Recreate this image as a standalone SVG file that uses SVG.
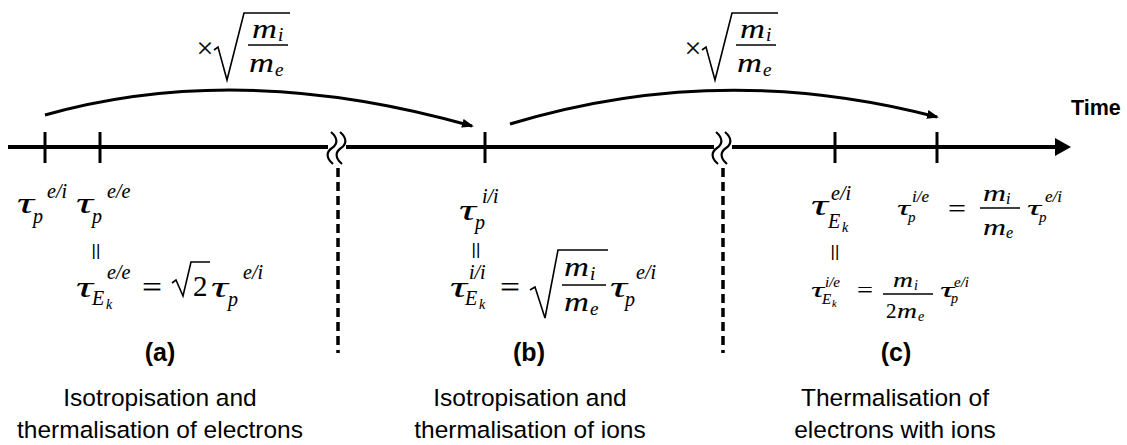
<svg xmlns="http://www.w3.org/2000/svg" width="1127" height="445" viewBox="0 0 1127 445">
<style>
.m{font-family:"Liberation Serif","DejaVu Serif",serif;font-style:italic;fill:#000;stroke:#000;stroke-width:0.1}
.u{font-family:"Liberation Serif","DejaVu Serif",serif;font-style:normal;fill:#000;stroke:#000;stroke-width:0.1}
.par{font-family:"Liberation Sans",Arial,sans-serif;fill:#000;text-anchor:middle}
.lbl{font-family:"Liberation Sans",Arial,sans-serif;font-size:24.5px;text-anchor:middle;fill:#000}
.bold{font-family:"Liberation Sans",Arial,sans-serif;font-weight:bold;fill:#000}
.ax{stroke:#000;stroke-width:4;fill:none}
.tick{stroke:#000;stroke-width:3}
.brk{stroke:#000;stroke-width:2.2;fill:none}
.dash{stroke:#000;stroke-width:3.5;stroke-dasharray:9 5}
.arc{stroke:#000;stroke-width:3;fill:none}
.rad{stroke:#000;stroke-width:1.6;fill:none}
.bar{stroke:#000;stroke-width:1.6}
</style>
<defs>
<marker id="ah" markerUnits="userSpaceOnUse" markerWidth="14" markerHeight="12" refX="10" refY="4.5" orient="auto"><path d="M0,0 L12,4.5 L0,9 z" fill="#000"/></marker>
<marker id="mainah" markerUnits="userSpaceOnUse" markerWidth="18" markerHeight="20" refX="1" refY="9" orient="auto"><path d="M0,0 L16,9 L0,18 z" fill="#000"/></marker>
</defs>

<g id="axis">
<line class="ax" x1="8" y1="147" x2="328" y2="147"/>
<line class="ax" x1="346" y1="147" x2="714" y2="147"/>
<line class="ax" x1="732" y1="147" x2="1056" y2="147" marker-end="url(#mainah)"/>
<path class="brk" d="M331,132 C338,138 338,144 332,148 C326,152 326,158 333,164"/>
<path class="brk" d="M340,132 C347,138 347,144 341,148 C335,152 335,158 342,164"/>
<path class="brk" d="M716,132 C723,138 723,144 717,148 C711,152 711,158 718,164"/>
<path class="brk" d="M725,132 C732,138 732,144 726,148 C720,152 720,158 727,164"/>
<line class="tick" x1="45" y1="132" x2="45" y2="163"/>
<line class="tick" x1="100" y1="132" x2="100" y2="163"/>
<line class="tick" x1="485" y1="132" x2="485" y2="163"/>
<line class="tick" x1="835" y1="132" x2="835" y2="163"/>
<line class="tick" x1="937" y1="132" x2="937" y2="163"/>
<line class="dash" x1="338" y1="168" x2="338" y2="353"/>
<line class="dash" x1="723" y1="168" x2="723" y2="353"/>
<text class="bold" x="1071" y="115" font-size="21.5">Time</text>
</g>

<g id="connectors">
<path class="arc" d="M45,115 Q240,60 472,126" marker-end="url(#ah)"/>
<path class="arc" d="M510,124 Q720,60 937,117" marker-end="url(#ah)"/>
</g>

<g id="factor1">
<text class="u" x="205" y="58" font-size="30" text-anchor="middle" style="stroke-width:0">×</text>
<path class="rad" d="M214,50 L218,47 L227,80 L244,13 H290"/>
<text class="m" x="252" y="38" font-size="28" textLength="25" lengthAdjust="spacingAndGlyphs">m</text><text class="m" x="278" y="41" font-size="19">i</text>
<line class="bar" x1="248" y1="45" x2="288" y2="45"/>
<text class="m" x="249" y="72" font-size="28" textLength="25" lengthAdjust="spacingAndGlyphs">m</text><text class="m" x="275" y="76" font-size="19">e</text>
</g>
<g id="factor2" transform="translate(488,0)">
<text class="u" x="205" y="58" font-size="30" text-anchor="middle" style="stroke-width:0">×</text>
<path class="rad" d="M214,50 L218,47 L227,80 L244,13 H290"/>
<text class="m" x="252" y="38" font-size="28" textLength="25" lengthAdjust="spacingAndGlyphs">m</text><text class="m" x="278" y="41" font-size="19">i</text>
<line class="bar" x1="248" y1="45" x2="288" y2="45"/>
<text class="m" x="249" y="72" font-size="28" textLength="25" lengthAdjust="spacingAndGlyphs">m</text><text class="m" x="275" y="76" font-size="19">e</text>
</g>

<g id="node-a">
<text class="m" x="17" y="213" font-size="29" textLength="17" lengthAdjust="spacingAndGlyphs">τ</text>
<text class="m" x="33" y="223" font-size="20">p</text>
<text class="m" x="47" y="198" font-size="20">e/i</text>
<text class="m" x="76" y="213" font-size="29" textLength="17" lengthAdjust="spacingAndGlyphs">τ</text>
<text class="m" x="92" y="223" font-size="20">p</text>
<text class="m" x="107" y="198" font-size="20">e/e</text>
<text class="par" x="96" y="256" font-size="17">||</text>
<text class="m" x="76" y="297" font-size="29" textLength="17" lengthAdjust="spacingAndGlyphs">τ</text>
<text class="m" x="92" y="305" font-size="20">E</text><text class="m" x="106" y="309" font-size="14">k</text>
<text class="m" x="107" y="279" font-size="20">e/e</text>
<text class="u" x="142" y="297" font-size="30" textLength="20" lengthAdjust="spacingAndGlyphs">=</text>
<path class="rad" d="M172,283 L176,280 L183,296 L191,262 H210"/>
<text class="u" x="193" y="296" font-size="29">2</text>
<text class="m" x="211" y="297" font-size="29" textLength="17" lengthAdjust="spacingAndGlyphs">τ</text>
<text class="m" x="228" y="306" font-size="20">p</text>
<text class="m" x="243" y="279" font-size="20">e/i</text>
<text class="bold" x="160" y="361" font-size="25" text-anchor="middle">(a)</text>
<text class="lbl" x="160" y="406">Isotropisation and</text>
<text class="lbl" x="160" y="438">thermalisation of electrons</text>
</g>

<g id="node-b">
<text class="m" x="459" y="220" font-size="29" textLength="17" lengthAdjust="spacingAndGlyphs">τ</text>
<text class="m" x="475" y="229" font-size="20">p</text>
<text class="m" x="482" y="203" font-size="20">i/i</text>
<text class="par" x="476" y="255" font-size="17">||</text>
<text class="m" x="450" y="297" font-size="29" textLength="17" lengthAdjust="spacingAndGlyphs">τ</text>
<text class="m" x="465" y="305" font-size="20">E</text><text class="m" x="479" y="309" font-size="14">k</text>
<text class="m" x="469" y="279" font-size="20">i/i</text>
<text class="u" x="500" y="297" font-size="30" textLength="20" lengthAdjust="spacingAndGlyphs">=</text>
<path class="rad" d="M530,290 L535,287 L545,318 L558,250 H608"/>
<text class="m" x="564" y="276" font-size="28" textLength="25" lengthAdjust="spacingAndGlyphs">m</text><text class="m" x="590" y="280" font-size="19">i</text>
<line class="bar" x1="562" y1="285" x2="606" y2="285"/>
<text class="m" x="564" y="311" font-size="28" textLength="25" lengthAdjust="spacingAndGlyphs">m</text><text class="m" x="590" y="315" font-size="19">e</text>
<text class="m" x="610" y="297" font-size="29" textLength="17" lengthAdjust="spacingAndGlyphs">τ</text>
<text class="m" x="625" y="306" font-size="20">p</text>
<text class="m" x="636" y="279" font-size="20">e/i</text>
<text class="bold" x="529" y="361" font-size="25" text-anchor="middle">(b)</text>
<text class="lbl" x="530" y="406">Isotropisation and</text>
<text class="lbl" x="530" y="438">thermalisation of ions</text>
</g>

<g id="node-c">
<text class="m" x="811" y="215" font-size="29" textLength="17" lengthAdjust="spacingAndGlyphs">τ</text>
<text class="m" x="828" y="228" font-size="20">E</text><text class="m" x="842" y="232" font-size="14">k</text>
<text class="m" x="831" y="200" font-size="20">e/i</text>
<text class="m" x="897" y="215" font-size="22" textLength="13" lengthAdjust="spacingAndGlyphs">τ</text>
<text class="m" x="908" y="222" font-size="15">p</text>
<text class="m" x="912" y="202" font-size="17">i/e</text>
<text class="u" x="948" y="216" font-size="24" textLength="18" lengthAdjust="spacingAndGlyphs">=</text>
<text class="m" x="983" y="201" font-size="24" textLength="23" lengthAdjust="spacingAndGlyphs">m</text><text class="m" x="1006" y="204" font-size="16">i</text>
<line class="bar" x1="980" y1="208" x2="1020" y2="208"/>
<text class="m" x="983" y="235" font-size="24" textLength="23" lengthAdjust="spacingAndGlyphs">m</text><text class="m" x="1006" y="238" font-size="16">e</text>
<text class="m" x="1027" y="215" font-size="22" textLength="14" lengthAdjust="spacingAndGlyphs">τ</text>
<text class="m" x="1039" y="222" font-size="15">p</text>
<text class="m" x="1045" y="202" font-size="17">e/i</text>
<text class="par" x="835" y="257" font-size="17">||</text>
<text class="m" x="811" y="297" font-size="21" textLength="13" lengthAdjust="spacingAndGlyphs">τ</text>
<text class="m" x="822" y="304" font-size="15">E</text><text class="m" x="832" y="307" font-size="10">k</text>
<text class="m" x="825" y="287" font-size="15">i/e</text>
<text class="u" x="857" y="297" font-size="21" textLength="16" lengthAdjust="spacingAndGlyphs">=</text>
<text class="m" x="893" y="287" font-size="21" textLength="20" lengthAdjust="spacingAndGlyphs">m</text><text class="m" x="914" y="290" font-size="14">i</text>
<line class="bar" x1="883" y1="294" x2="933" y2="294"/>
<text class="u" x="886" y="318" font-size="21">2</text><text class="m" x="897" y="318" font-size="21" textLength="20" lengthAdjust="spacingAndGlyphs">m</text><text class="m" x="918" y="321" font-size="14">e</text>
<text class="m" x="940" y="297" font-size="21" textLength="14" lengthAdjust="spacingAndGlyphs">τ</text>
<text class="m" x="951" y="303" font-size="14">p</text>
<text class="m" x="954" y="287" font-size="15">e/i</text>
<text class="bold" x="896" y="361" font-size="25" text-anchor="middle">(c)</text>
<text class="lbl" x="895" y="406">Thermalisation of</text>
<text class="lbl" x="895" y="438">electrons with ions</text>
</g>
</svg>
